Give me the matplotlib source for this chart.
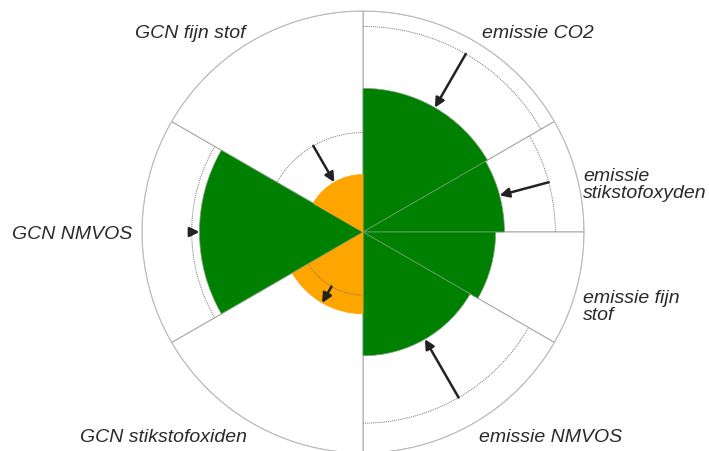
import numpy as np
import matplotlib
matplotlib.use("Agg")
import matplotlib.pyplot as plt

# sectors, clockwise from the top (angles in degrees, 0 = east, ccw positive)
labels = ["emissie CO2", "emissie\nstikstofoxyden", "emissie fijn\nstof", "emissie NMVOS",
          "GCN stikstofoxiden", "GCN NMVOS", "GCN fijn stof"]
sector_start = [30, 0, -30, -90, 210, 150, 90]
sector_width = [60, 30, 30, 60, 60, 60, 60]
values = [65, 64, 60, 56, 37, 74, 26]
reference = [93, 87, np.nan, 86.5, 28.5, 77.5, 45]
colors = ["green", "green", "green", "green", "orange", "green", "orange"]
edge_colors = ["#7aa07a", "#7aa07a", "#7aa07a", "#7aa07a", "orange", "#7aa07a", "orange"]

# label placement in figure pixels (x, y from top), alignment
label_pos = [(538, 33, "center"), (583, 185, "left"), (583, 307, "left"), (551, 438, "center"),
             (163, 438, "center"), (72, 235, "center"), (190, 33, "center")]

W, H = 709, 452
fig = plt.figure(figsize=(W / 100, H / 100), dpi=100)
cx, cy, R = 363, 233, 221
ax = fig.add_axes([(cx - R) / W, (H - cy - R) / H, 2 * R / W, 2 * R / H], projection="polar")

rmax = 100
theta0 = np.radians(np.array(sector_start) + np.array(sector_width) / 2)
widths = np.radians(sector_width)

# background wedges with thin grey outlines
ax.bar(theta0, rmax, width=widths, bottom=0, facecolor="white", edgecolor="#9a9a9a",
       linewidth=0.6, zorder=1)
# value wedges
ax.bar(theta0, values, width=widths, bottom=0, color=colors, edgecolor=edge_colors,
       linewidth=0.5, zorder=2)

# reference arcs and arrows from reference to value
for t, w, v, ref in zip(theta0, widths, values, reference):
    if np.isnan(ref):
        continue
    tt = np.linspace(t - w / 2, t + w / 2, 100)
    ax.plot(tt, np.full_like(tt, ref), linestyle=(0, (1, 1)), color="#777777",
            linewidth=0.7, zorder=3)
    ax.annotate("", xy=(t, v), xytext=(t, ref),
                arrowprops=dict(arrowstyle="-|>", color="#222222", lw=1.8,
                                mutation_scale=14, shrinkA=0, shrinkB=0),
                zorder=4)

ax.set_ylim(0, rmax)
ax.set_xticks([])
ax.set_yticks([])
ax.grid(False)
ax.spines["polar"].set_color("#bbbbbb")
ax.spines["polar"].set_linewidth(0.8)

for lab, (x, y, ha) in zip(labels, label_pos):
    fig.text(x / W, 1 - y / H, lab, ha=ha, va="center", fontsize=14, style="italic",
             family="Liberation Sans", color="#2a2a2a", linespacing=1.0)

fig.savefig("out.png", dpi=100)
